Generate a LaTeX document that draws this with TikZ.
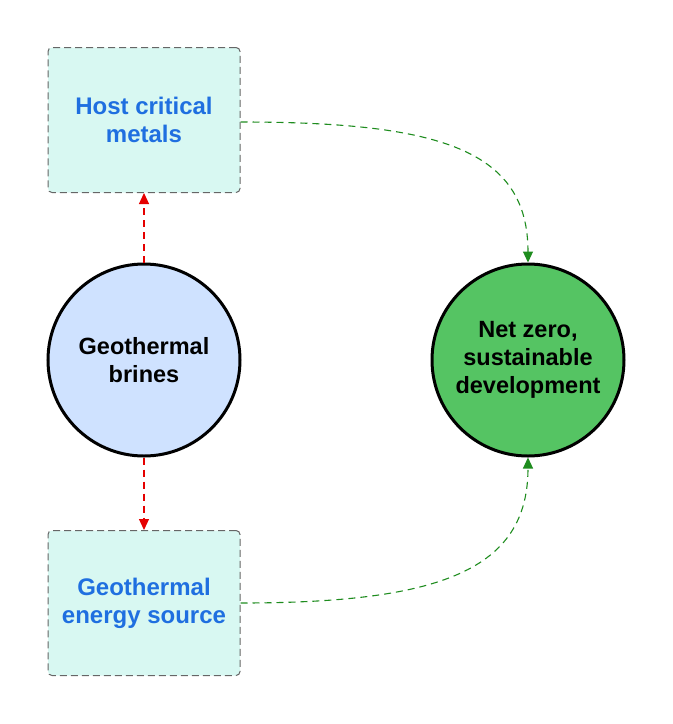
\documentclass[tikz,border=0pt]{standalone}
\usepackage{fontspec}
\setmainfont{Liberation Sans}
\usetikzlibrary{arrows.meta}
\definecolor{boxfill}{HTML}{D8F8F2}
\definecolor{bluetxt}{HTML}{1F6FE0}
\definecolor{cblue}{HTML}{CFE2FF}
\definecolor{cgreen}{HTML}{55C463}
\definecolor{dgreen}{HTML}{1E8C1E}
\begin{document}
\begin{tikzpicture}[x=1pt,y=-1pt,
 box/.style={draw=gray!80!black,dash pattern=on 7pt off 4pt,fill=boxfill,rounded corners=4pt,minimum width=192pt,minimum height=145pt,align=center,font=\fontsize{24}{28}\selectfont\bfseries,text=bluetxt,line width=1pt},
 circ/.style={circle,draw=black,line width=3pt,minimum size=192pt,align=center,font=\fontsize{23.5}{28}\selectfont\bfseries},
 red/.style={draw=red!90!black,dash pattern=on 7pt off 5pt,line width=1.1pt,-{Triangle[length=11pt,width=10pt]}},
 grn/.style={draw=dgreen,dash pattern=on 7pt off 5pt,line width=1.1pt,-{Triangle[length=11pt,width=10pt]}}]
\useasboundingbox (0,0) rectangle (673,724);
\node[box] (top) at (144,120) {Host critical\\metals};
\node[box] (bot) at (144,603) {Geothermal\\energy source};
\node[circ,fill=cblue] (gb) at (144,360) {Geothermal\\brines};
\node[circ,fill=cgreen] (nz) at (528,360) {Net zero,\\sustainable\\development};
\draw[red] (gb.north) -- (top.south);
\draw[red] (gb.south) -- (bot.north);
\draw[grn] (top.east |- 0,122) .. controls (440,122) and (528,150) .. (nz.north);
\draw[grn] (bot.east) .. controls (440,603) and (528,570) .. (nz.south);
\end{tikzpicture}
\end{document}
